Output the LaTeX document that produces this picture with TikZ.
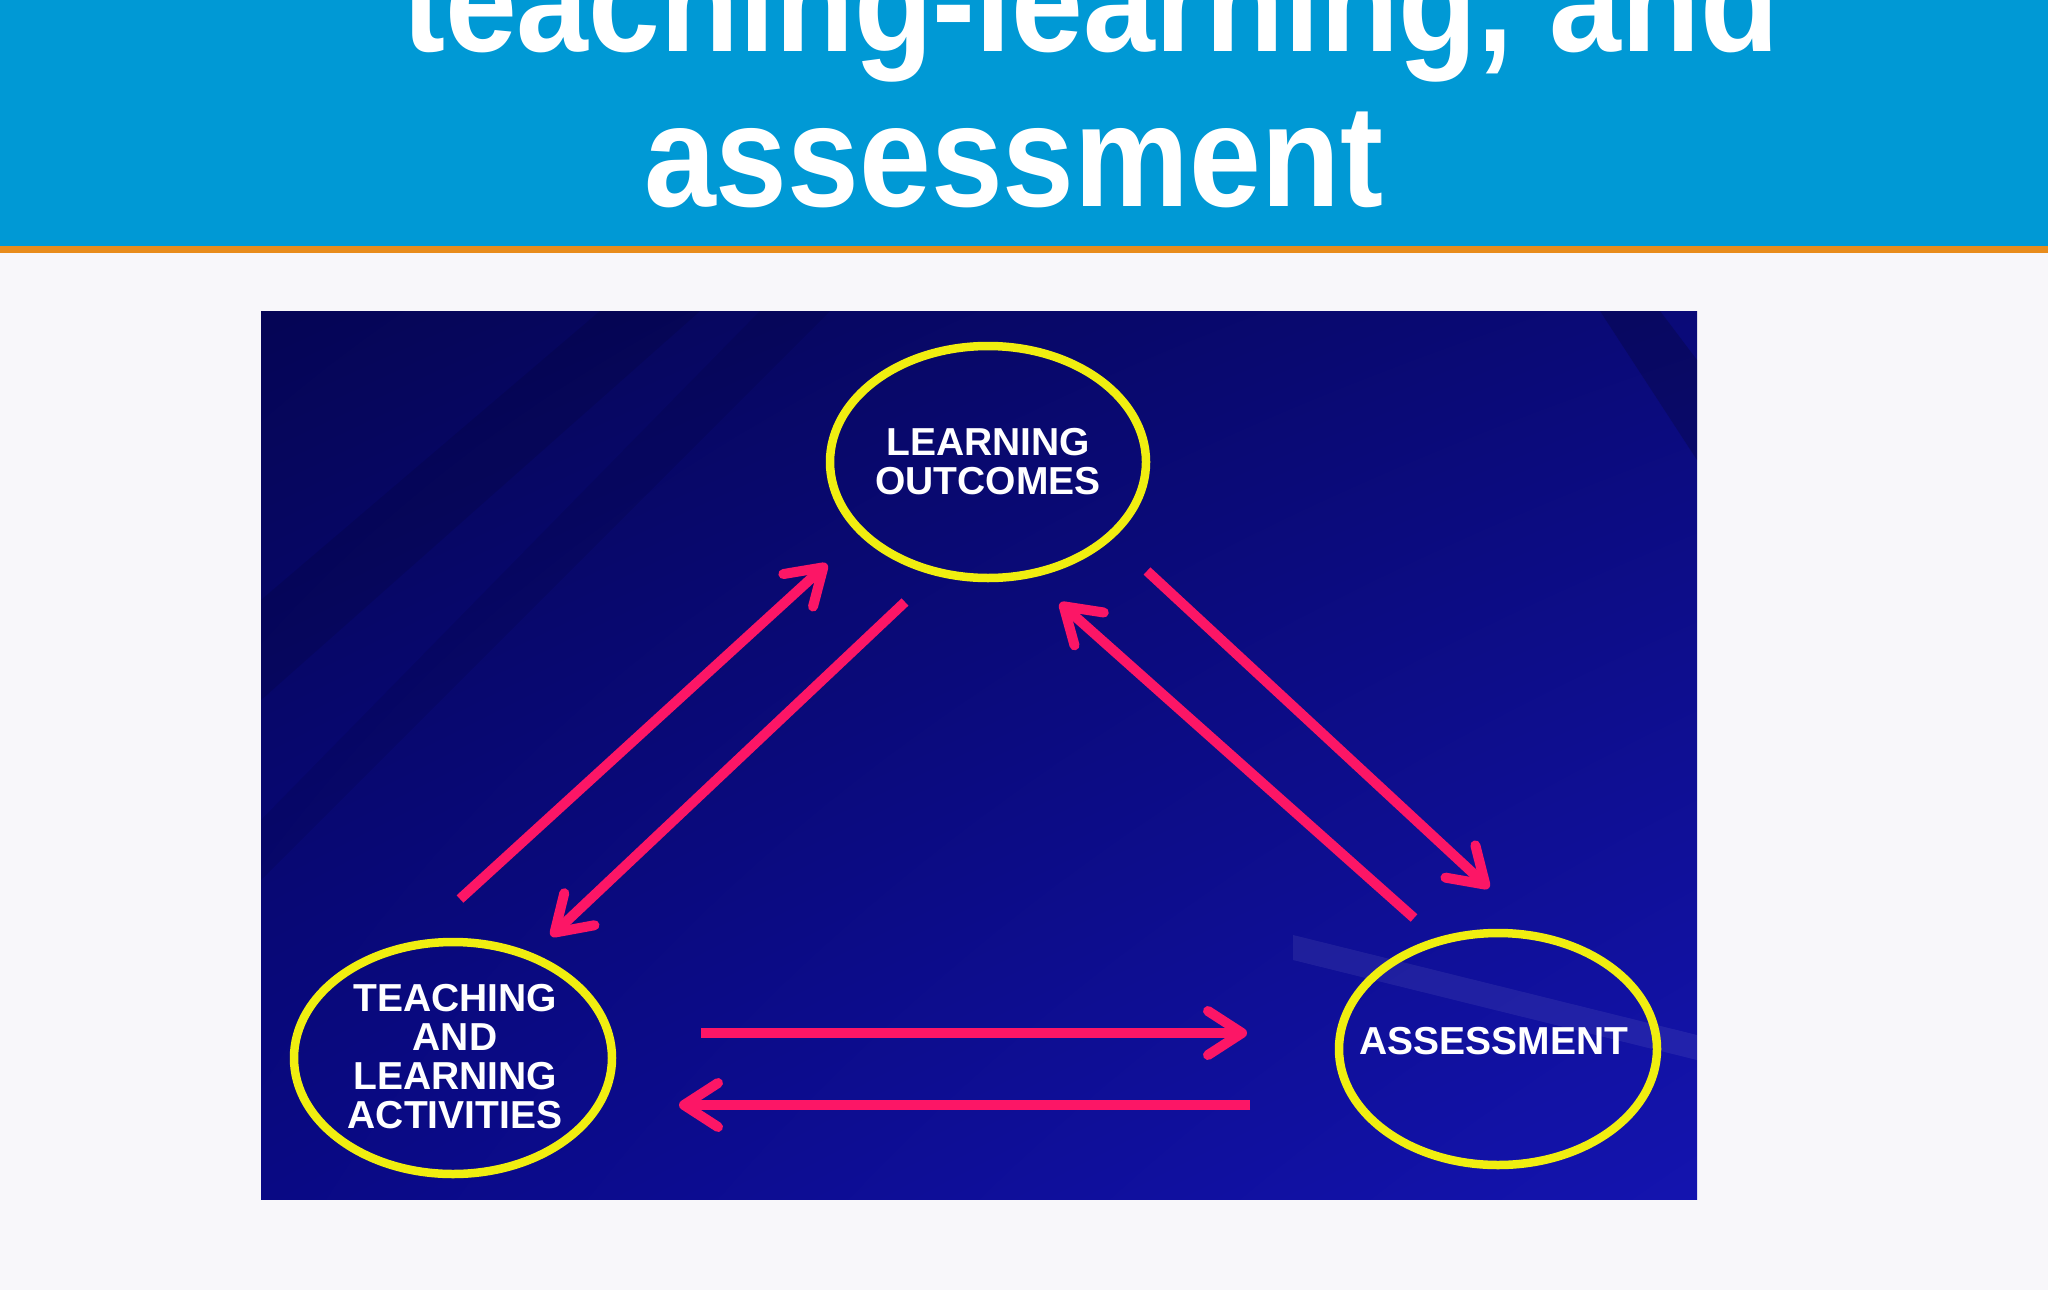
\documentclass[tikz,border=0pt]{standalone}
\usepackage{fontspec}
\setmainfont{Liberation Sans}
\usetikzlibrary{shapes.geometric,arrows.meta,shadings}
\definecolor{pagebg}{RGB}{248,247,250}
\definecolor{headblue}{RGB}{0,153,213}
\definecolor{orangeline}{RGB}{232,140,28}
\definecolor{ringyellow}{RGB}{240,238,16}
\definecolor{arrowpink}{RGB}{252,22,102}
\definecolor{navyA}{RGB}{5,5,85}
\definecolor{navyB}{RGB}{10,10,120}
\definecolor{navyC}{RGB}{9,9,132}
\definecolor{navyD}{RGB}{20,20,175}
\begin{document}
\begin{tikzpicture}[x=1pt,y=-1pt,
  titletext/.style={anchor=base west, inner sep=0pt, text=white, font=\fontsize{145}{150}\selectfont\bfseries},
  ring/.style={ellipse, draw=ringyellow, line width=8.5pt, minimum width=316pt, minimum height=232pt, inner sep=0pt},
  ringtext/.style={inner sep=0pt, text=white, align=center, font=\fontsize{39}{39}\selectfont\bfseries},
  flow/.style={draw=arrowpink, line width=10pt, -{Straight Barb[length=34pt,width=44pt,round]}}]
\useasboundingbox (0,0) rectangle (2048,1290);
\clip (0,0) rectangle (2048,1290);
% page
\fill[pagebg] (0,0) rectangle (2048,1290);
\fill[headblue] (0,0) rectangle (2048,246);
\fill[orangeline] (0,246) rectangle (2048,253);
% title
\node[titletext] (title1) at (402,52) {\scalebox{0.89}[1]{teaching-learning, and}};
\node[titletext] (title2) at (644,206) {\scalebox{0.89}[1]{assessment}};
% panel
\begin{scope}
\clip (261,311) rectangle (1697,1199);
\shade[upper left=navyA, upper right=navyB, lower left=navyC, lower right=navyD] (261,311) rectangle (1697,1199);
\fill[black, opacity=0.10] (600,311) -- (700,311) -- (261,700) -- (261,600) -- cycle;
\fill[black, opacity=0.08] (760,311) -- (830,311) -- (261,880) -- (261,820) -- cycle;
\fill[black, opacity=0.18] (1600,311) -- (1660,311) -- (1697,360) -- (1697,460) -- cycle;
\fill[white, opacity=0.07] (1293,935) -- (1697,1035) -- (1697,1060) -- (1293,960) -- cycle;
\end{scope}
% nodes
\node[ring] (lo) at (988,462) {};
\node[ring, minimum width=318pt] (tla) at (453,1058) {};
\node[ring, minimum width=318pt] (as) at (1498,1049) {};
\node[ringtext] (lotext) at (988,462) {LEARNING\\OUTCOMES};
\node[ringtext] (tlatext) at (455,1057) {TEACHING\\AND\\LEARNING\\ACTIVITIES};
\node[ringtext] (astext) at (1494,1041) {ASSESSMENT};
% connector end points
\coordinate (a1s) at (460,899);  \coordinate (a1e) at (827,564);
\coordinate (a2s) at (905,602);  \coordinate (a2e) at (551,936);
\coordinate (a3s) at (1147,571); \coordinate (a3e) at (1489,888);
\coordinate (a4s) at (1414,918); \coordinate (a4e) at (1060,603);
\coordinate (a5s) at (701,1033); \coordinate (a5e) at (1247,1033);
\coordinate (a6s) at (1250,1105);\coordinate (a6e) at (679,1105);
\draw[flow] (a1s) -- (a1e);
\draw[flow] (a2s) -- (a2e);
\draw[flow] (a3s) -- (a3e);
\draw[flow] (a4s) -- (a4e);
\draw[flow] (a5s) -- (a5e);
\draw[flow] (a6s) -- (a6e);
\end{tikzpicture}
\end{document}
